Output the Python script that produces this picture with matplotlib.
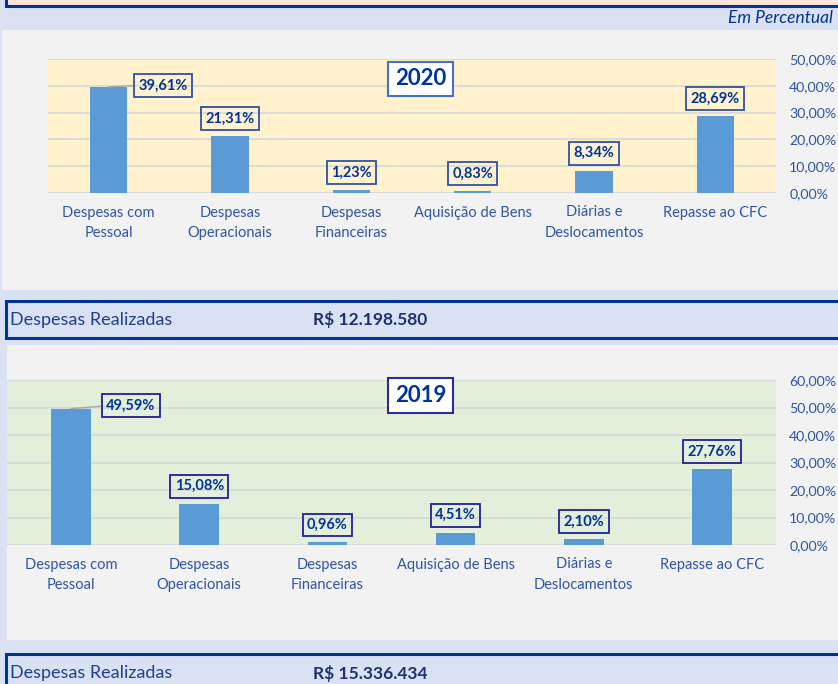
import numpy as np
import matplotlib.pyplot as plt
from matplotlib.patches import Rectangle

plt.rcParams['font.family'] = ['Lato', 'DejaVu Sans']

# dados
categorias = ['Despesas com\nPessoal', 'Despesas\nOperacionais', 'Despesas\nFinanceiras',
              'Aquisição de Bens', 'Diárias e\nDeslocamentos', 'Repasse ao CFC']
valores_2020 = [39.61, 21.31, 1.23, 0.83, 8.34, 28.69]
valores_2019 = [49.59, 15.08, 0.96, 4.51, 2.10, 27.76]
total_2020 = 'R$ 12.198.580'
total_2019 = 'R$ 15.336.434'

W, H = 838, 684
AZUL_BARRA = '#5B9BD5'
AZUL_TXT = '#2F55A4'
AZUL_ESC = '#003399'
FUNDO = '#DAE1F2'
CINZA = '#F2F2F2'


def caixa(x0, y0, x1, y1):
    # pixels (origem em cima) -> coordenadas da figura
    return [x0 / W, 1 - y1 / H, (x1 - x0) / W, (y1 - y0) / H]


def retangulo(fig, x0, y0, x1, y1, fc, ec='none', lw=0):
    r = caixa(x0, y0, x1, y1)
    fig.add_artist(Rectangle((r[0], r[1]), r[2], r[3], transform=fig.transFigure,
                             facecolor=fc, edgecolor=ec, linewidth=lw, zorder=0))


def fmt(v):
    return f'{v:.2f}'.replace('.', ',') + '%'


fig = plt.figure(figsize=(W / 100, H / 100), dpi=100, facecolor=FUNDO)

# faixas e paineis
retangulo(fig, 6, -20, 860, 6, '#FCE4D6', AZUL_ESC, 2.2)
retangulo(fig, 2, 30, 840, 290, CINZA)
retangulo(fig, 6, 301, 860, 338, FUNDO, AZUL_ESC, 2.2)
retangulo(fig, 7, 345, 840, 640, CINZA)
retangulo(fig, 6, 654, 860, 710, FUNDO, AZUL_ESC, 2.2)

fig.text(833 / W, 1 - 18 / H, 'Em Percentual', ha='right', va='center',
         fontsize=12.5, style='italic', color=AZUL_ESC)
for y, total in [(320, total_2020), (673, total_2019)]:
    fig.text(10 / W, 1 - y / H, 'Despesas Realizadas', ha='left', va='center',
             fontsize=13, color='#1F3F8F')
    fig.text(313 / W, 1 - y / H, total, ha='left', va='center',
             fontsize=12.5, fontweight='bold', color='#1F3070')


def grafico(pos, valores, ymax, fundo, ano, ano_xy, borda_ano, borda_rot, destaque):
    ax = fig.add_axes(caixa(*pos))
    ax.set_facecolor(fundo)
    x = np.arange(len(valores))
    ax.bar(x, valores, width=0.31, color=AZUL_BARRA, zorder=3)
    ax.set_xlim(-0.5, len(valores) - 0.5)
    ax.set_ylim(0, ymax)
    ticks = np.arange(0, ymax + 1, 10)
    ax.set_yticks(ticks)
    ax.set_yticklabels([fmt(t) for t in ticks])
    ax.yaxis.tick_right()
    ax.tick_params(axis='y', length=0, pad=9.5, labelsize=10.2, labelcolor=AZUL_TXT)
    ax.set_xticks(x)
    ax.set_xticklabels(categorias, fontsize=10.5, color=AZUL_TXT, linespacing=1.55)
    ax.tick_params(axis='x', length=0, pad=9)
    ax.grid(axis='y', color='#D9D9D9', linewidth=1.3, zorder=1)
    for s in ax.spines.values():
        s.set_visible(False)

    for i, v in enumerate(valores):
        bb = dict(boxstyle='square,pad=0.3', facecolor='none', edgecolor=borda_rot, linewidth=1.3)
        if i == destaque[0]:
            ax.annotate(fmt(v), xy=(i, v), xytext=destaque[1], textcoords='offset points',
                        ha='center', va='center', fontsize=10.5, fontweight='bold',
                        color=AZUL_ESC, bbox=bb, zorder=5,
                        arrowprops=dict(arrowstyle='-', color='#A6A6A6', lw=1,
                                        shrinkA=0, shrinkB=0, relpos=(0, 0.5)))
        else:
            ax.annotate(fmt(v), xy=(i, v), xytext=(0, 12.5), textcoords='offset points',
                        ha='center', va='center', fontsize=10.5, fontweight='bold',
                        color=AZUL_ESC, bbox=bb, zorder=5)

    ax.text(ano_xy[0], ano_xy[1], ano, transform=ax.transAxes, ha='center', va='center',
            fontsize=16, fontweight='bold', color=AZUL_ESC, zorder=6,
            bbox=dict(boxstyle='square,pad=0.3', facecolor='white', edgecolor=borda_ano, linewidth=1.5))
    return ax


grafico((48, 59, 776, 193), valores_2020, 50, '#FFF2CC', '2020', (0.512, 0.851),
        '#4472C4', '#2F52A8', (0, (39, 1)))
grafico((7, 380, 776, 545), valores_2019, 60, '#E2EFDA', '2019', (0.538, 0.906),
        '#2B2B9A', '#1F1F99', (0, (43, 2)))

fig.savefig('out.png', dpi=100, facecolor=FUNDO)
